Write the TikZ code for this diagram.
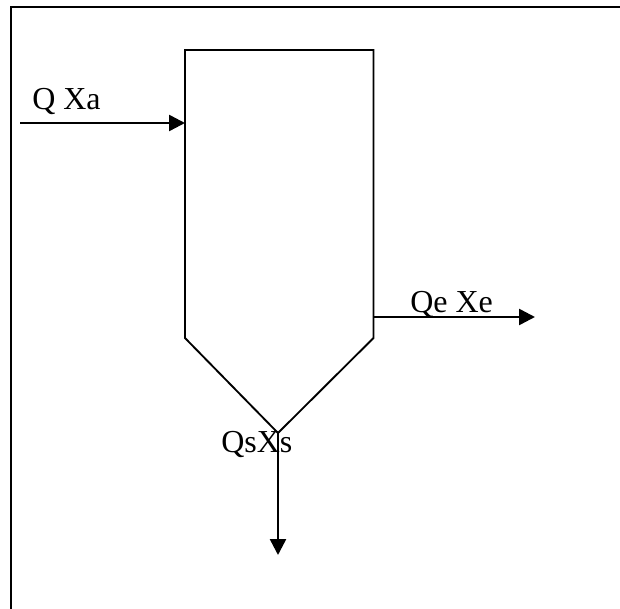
\documentclass[tikz,border=0pt]{standalone}
\usepackage{fontspec}
\setmainfont{Liberation Serif}
\usetikzlibrary{arrows.meta, positioning, calc}

\begin{document}
\begin{tikzpicture}[x=0.75pt, y=-0.75pt, >={Triangle[length=12pt, width=12pt]}, font=\fontsize{24}{27}\selectfont]

    \tikzstyle{flow} = [->, line width=1.9pt]
    \tikzstyle{wall} = [draw, line width=1.4pt, line join=miter]
    \tikzstyle{label} = [inner sep=0pt, anchor=base west]

    \useasboundingbox (0,0) rectangle (620,609);

    % Outer frame, open on the right
    \draw[line width=1.7pt] (620,7) -- (11,7) -- (11,609);

    % Settling tank
    \coordinate (tl) at (185,50);
    \coordinate (tr) at (373.5,50);
    \coordinate (sr) at (373.5,338);
    \coordinate (tip) at (278,433);
    \coordinate (sl) at (185,338);
    \path[wall] (tl) -- (tr) -- (sr) -- (tip) -- (sl) -- cycle;

    % Feed
    \coordinate (feed) at (20,123);
    \coordinate (inlet) at (185,123);
    \draw[flow] (feed) -- (inlet);
    \node[label] (qxa) at (32,110) {Q Xa};

    % Effluent
    \coordinate (outlet) at (373.5,317);
    \coordinate (effluent) at (535,317);
    \draw[flow] (outlet) -- (effluent);
    \node[label] (qexe) at (410,312) {Qe Xe};

    % Sludge
    \coordinate (sludge) at (278,555);
    \draw[flow] (tip) -- (sludge);
    \node[label] (qsxs) at (221,452) {QsXs};

\end{tikzpicture}
\end{document}
